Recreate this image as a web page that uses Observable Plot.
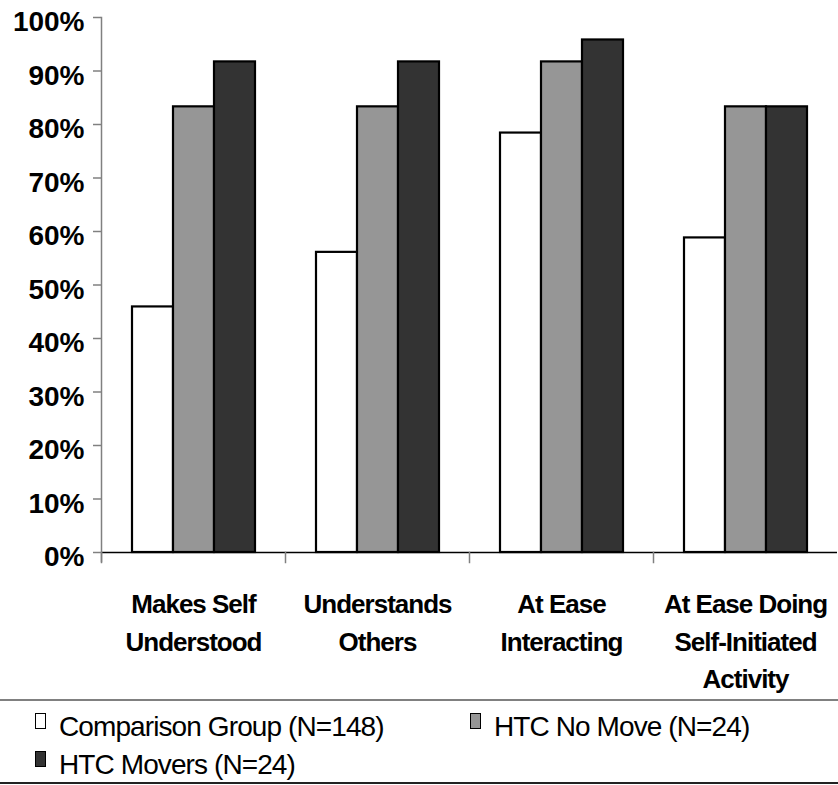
<!DOCTYPE html>
<html>
<head>
<meta charset="utf-8">
<script src="https://cdn.jsdelivr.net/npm/d3@7"></script>
<script src="https://cdn.jsdelivr.net/npm/@observablehq/plot@0.6"></script>
<style>
  html, body { margin: 0; padding: 0; background: #fff; }
  #wrap { position: relative; width: 838px; height: 785px; overflow: hidden; font-family: "Liberation Sans", Arial, sans-serif; }
  #chart { position: absolute; left: 0; top: 0; }
  .hline { position: absolute; left: 0; width: 838px; }
  .lbox { position: absolute; width: 11px; height: 16px; border: 1.5px solid #000; box-sizing: border-box; }
  .ltext { position: absolute; font-size: 28px; line-height: 28px; letter-spacing: -0.9px; color: #000; white-space: nowrap; }
</style>
</head>
<body>
<div id="wrap">
  <div id="chart"></div>
  <div id="legend"></div>
</div>
<script>
// ---- data ----
const categories = [
  "Makes Self\nUnderstood",
  "Understands\nOthers",
  "At Ease\nInteracting",
  "At Ease Doing\nSelf-Initiated\nActivity"
];
const series = ["Comparison Group (N=148)", "HTC No Move (N=24)", "HTC Movers (N=24)"];
const comparisonGroup = [45.9, 56.1, 78.4, 58.8];
const htcNoMove = [83.3, 83.3, 91.7, 83.3];
const htcMovers = [91.7, 91.7, 95.8, 83.3];
const seriesColors = ["#ffffff", "#969696", "#333333"];
const yTicks = [0, 10, 20, 30, 40, 50, 60, 70, 80, 90, 100];

const seriesValues = [comparisonGroup, htcNoMove, htcMovers];
const rows = categories.flatMap((c, i) =>
  series.map((s, j) => ({category: c, series: s, value: seriesValues[j][i]}))
);

const chart = Plot.plot({
  width: 838,
  height: 700,
  marginTop: 17,
  marginBottom: 148,
  marginLeft: 99,
  marginRight: 0,
  style: {fontFamily: "'Liberation Sans', Arial, sans-serif", background: "#fff", color: "#000"},
  fx: {domain: categories, padding: 0, axis: null, label: null},
  x: {domain: series, paddingInner: 0, paddingOuter: 0.73, axis: null, label: null},
  y: {domain: [0, 100], axis: null, label: null},
  color: {domain: series, range: seriesColors},
  marks: [
    Plot.barY(rows, {fx: "category", x: "series", y: "value", fill: "series", stroke: "#000", strokeWidth: 2.2}),
    Plot.ruleY([0], {stroke: "#000", strokeWidth: 1.5}),
    Plot.frame({anchor: "left", facetAnchor: "left", stroke: "#808080", strokeWidth: 1.5, insetBottom: -9}),
    Plot.frame({anchor: "left", stroke: "#808080", strokeWidth: 1.5, insetTop: 535, insetBottom: -10}),
    Plot.axisY({ticks: yTicks, tickSize: 8, stroke: "#808080", strokeWidth: 1.5, fill: "none", label: null}),
    Plot.axisY({ticks: yTicks, tickSize: 0, tickPadding: 17, stroke: "none", tickFormat: d => d + "%",
                fontSize: 28, fontWeight: "bold", fill: "#000", dy: 5, label: null}),
    Plot.text(categories, {fx: d => d, text: d => d, frameAnchor: "bottom", lineAnchor: "top",
                dy: 34, lineHeight: 1.44, fontSize: 26, fontWeight: "bold", fill: "#000"})
  ]
});
document.getElementById("chart").appendChild(chart);
d3.select(chart).selectAll("text").filter(function() {
  return categories.some(c => c.split("\n").includes(this.textContent));
}).style("letter-spacing", "-1px");
d3.select(chart).selectAll("tspan").style("letter-spacing", "-1px");

// ---- legend (HTML, below the SVG) ----
const wrap = document.getElementById("wrap");
function add(cls, css, text) {
  const el = document.createElement("div");
  el.className = cls;
  Object.assign(el.style, css);
  if (text) el.textContent = text;
  wrap.appendChild(el);
}
add("hline", {top: "699px", height: "2px", background: "#808080"});
add("hline", {top: "782px", height: "2px", background: "#222"});
const legendPos = [
  {x: 35, y: 713},
  {x: 470, y: 713},
  {x: 35, y: 751}
];
series.forEach((s, i) => {
  const p = legendPos[i];
  add("lbox", {left: p.x + "px", top: p.y + "px", background: seriesColors[i]});
  add("ltext", {left: (p.x + 24) + "px", top: (p.y + 0) + "px"}, s);
});
</script>
</body>
</html>
